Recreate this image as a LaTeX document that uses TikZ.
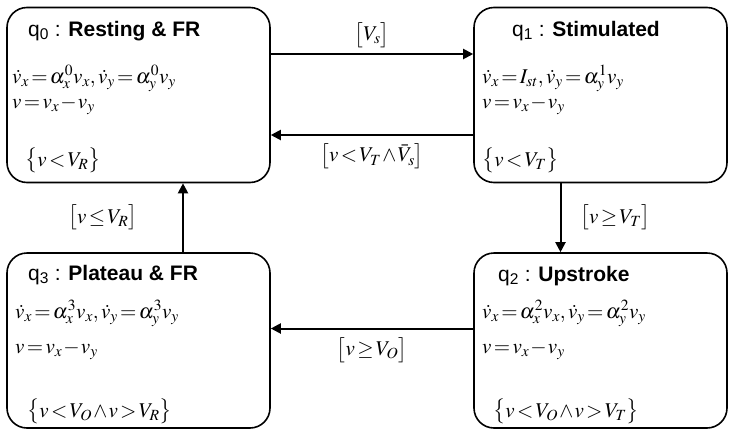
\documentclass[tikz,border=0pt]{standalone}
\usepackage{mathptmx}
\usepackage{fontspec}
\setmainfont{Liberation Serif}
\setsansfont{Liberation Sans}
\usetikzlibrary{arrows.meta}
\thickmuskip=2mu
\medmuskip=1mu
\tikzset{
  mode/.style={draw, rounded corners=20pt, line width=1.6pt, minimum width=263pt, minimum height=175pt, inner sep=0pt},
  ttl/.style={anchor=base west, inner sep=0pt, font=\sffamily\fontsize{21}{24}\selectfont},
  eqn/.style={anchor=base west, inner sep=0pt, text height=14pt, text depth=6pt, font=\fontsize{21}{24}\selectfont},
  guard/.style={inner sep=0pt, font=\fontsize{21}{24}\selectfont},
  trans/.style={line width=2pt, -{Triangle[length=10pt,width=10pt]}}
}
\begin{document}
\begin{tikzpicture}[x=1pt, y=-1pt]
	  \useasboundingbox (0,0) rectangle (729,429);
	  % modes
	  \node[mode] (q0) at (138.5,95) {};
	  \node[mode, minimum width=253pt] (q1) at (600.5,95) {};
	  \node[mode] (q3) at (138.5,340.5) {};
	  \node[mode, minimum width=253pt] (q2) at (600.5,340.5) {};
	  % q0
	  \node[ttl] (t0) at (28,36) {q\textsubscript{0} : \textbf{Resting \& FR}};
	  \node[eqn] (e0a) at (12,83) {$\dot v_x=\alpha^0_x v_x, \dot v_y=\alpha^0_y v_y$};
	  \node[eqn] (e0b) at (12,108) {$v=v_x-v_y$};
	  \node[eqn] (e0c) at (25,166) {$\bigl\{v<V_R\bigr\}$};
	  % q1
	  \node[ttl] (t1) at (512,36) {q\textsubscript{1} : \textbf{Stimulated}};
	  \node[eqn] (e1a) at (482,83) {$\dot v_x=I_{st}, \dot v_y=\alpha^1_y v_y$};
	  \node[eqn] (e1b) at (482,108) {$v=v_x-v_y$};
	  \node[eqn] (e1c) at (482,166) {$\bigl\{v<V_T\bigr\}$};
	  % q2
	  \node[ttl] (t2) at (498,281) {q\textsubscript{2} : \textbf{Upstroke}};
	  \node[eqn] (e2a) at (482,318) {$\dot v_x=\alpha^2_x v_x, \dot v_y=\alpha^2_y v_y$};
	  \node[eqn] (e2b) at (482,353) {$v=v_x-v_y$};
	  \node[eqn] (e2c) at (493,417) {$\bigl\{v<V_O\wedge v>V_T\bigr\}$};
	  % q3
	  \node[ttl] (t3) at (28,280) {q\textsubscript{3} : \textbf{Plateau \& FR}};
	  \node[eqn] (e3a) at (15,318) {$\dot v_x=\alpha^3_x v_x, \dot v_y=\alpha^3_y v_y$};
	  \node[eqn] (e3b) at (15,353) {$v=v_x-v_y$};
	  \node[eqn] (e3c) at (27,417) {$\bigl\{v<V_O\wedge v>V_R\bigr\}$};
	  % transitions
	  \draw[trans] ([yshift=41pt]q0.east) -- node[guard, above=5pt] (g01) {$\bigl[V_s\bigr]$} ([yshift=41pt]q1.west);
	  \draw[trans] ([yshift=-40pt]q1.west) -- node[guard, below=8pt] (g10) {$\bigl[v<V_T\wedge\bar V_s\bigr]$} ([yshift=-40pt]q0.east);
	  \draw[trans] ([xshift=-40pt]q1.south) -- node[guard, right=19pt] (g12) {$\bigl[v\ge V_T\bigr]$} ([xshift=-40pt]q2.north);
	  \draw[trans] ([yshift=12pt]q2.west) -- node[guard, below=8pt] (g23) {$\bigl[v\ge V_O\bigr]$} ([yshift=12pt]q3.east);
	  \draw[trans] ([xshift=44.5pt]q3.north) -- node[guard, left=45pt] (g30) {$\bigl[v\le V_R\bigr]$} ([xshift=44.5pt]q0.south);
	\end{tikzpicture}
\end{document}
